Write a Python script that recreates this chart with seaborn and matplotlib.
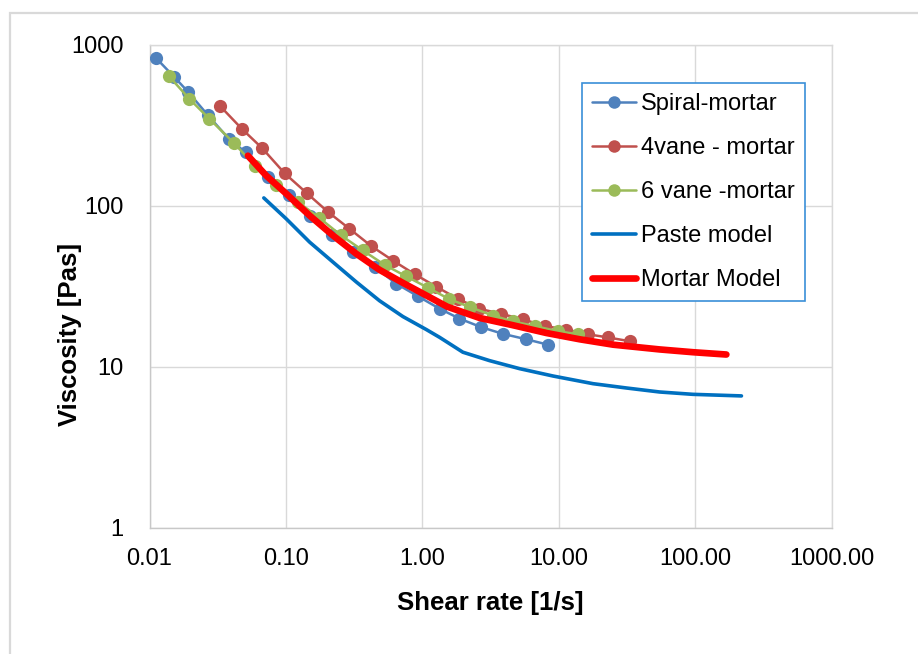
import numpy as np
import pandas as pd
import matplotlib
matplotlib.use('Agg')
import matplotlib.pyplot as plt
from matplotlib.patches import Rectangle
from matplotlib.ticker import FixedLocator, FixedFormatter, NullLocator
import seaborn as sns

# --- données ---
spiral_x = [0.0112, 0.0152, 0.0191, 0.0267, 0.0381, 0.0506, 0.0737, 0.106, 0.151, 0.216,
            0.309, 0.446, 0.644, 0.927, 1.34, 1.87, 2.70, 3.89, 5.78, 8.32]
spiral_y = [827, 631, 513, 367, 261, 215, 152, 116, 87, 65.4,
            51.6, 41.6, 32.8, 27.4, 22.9, 19.9, 17.6, 16.0, 14.8, 13.7]

vane4_x = [0.033, 0.0475, 0.067, 0.098, 0.142, 0.204, 0.292, 0.422, 0.608, 0.877,
           1.265, 1.82, 2.62, 3.78, 5.45, 7.87, 11.35, 16.3, 22.9, 33.0]
vane4_y = [416, 301, 228, 159, 120, 91.4, 72, 56.2, 45.7, 37.6,
           31.4, 26.4, 22.9, 21.3, 19.7, 17.9, 17.0, 15.9, 15.2, 14.4]

vane6_x = [0.0139, 0.0196, 0.0275, 0.0415, 0.0589, 0.0839, 0.122, 0.176, 0.254, 0.366,
           0.528, 0.762, 1.097, 1.56, 2.22, 3.29, 4.61, 6.65, 9.85, 13.8]
vane6_y = [639, 462, 347, 246, 178, 134, 106, 84, 65.4, 52.8,
           43, 36.4, 31.0, 26.4, 23.5, 20.8, 19.1, 17.9, 16.6, 15.9]

paste_x = [0.0688, 0.1005, 0.149, 0.221, 0.328, 0.485, 0.719, 1.07, 1.34, 1.98,
           3.11, 5.16, 9.06, 17.8, 31.3, 54.8, 96.2, 218]
paste_y = [112, 83, 59.5, 44.7, 33.6, 25.7, 20.5, 17.0, 15.2, 12.3,
           10.9, 9.72, 8.75, 7.84, 7.37, 6.96, 6.73, 6.58]

mortar_x = [0.0526, 0.0717, 0.1005, 0.149, 0.221, 0.328, 0.485, 0.719, 1.07, 1.52,
            2.62, 4.61, 8.09, 14.2, 25.0, 54.8, 96.2, 169]
mortar_y = [205, 154, 119, 87, 65.4, 50.3, 40.0, 33.2, 27.7, 23.6,
            20.1, 18.1, 16.2, 14.8, 13.7, 12.8, 12.3, 11.9]

x_ticks = [0.01, 0.1, 1, 10, 100, 1000]
x_tick_labels = ['0.01', '0.10', '1.00', '10.00', '100.00', '1000.00']
y_ticks = [1, 10, 100, 1000]
y_tick_labels = ['1', '10', '100', '1000']

sns.set_style('white')
plt.rcParams['font.family'] = ['Liberation Sans', 'DejaVu Sans']
plt.rcParams['text.color'] = 'black'
plt.rcParams['axes.labelcolor'] = 'black'

fig = plt.figure(figsize=(9.18, 6.54), dpi=100)
ax = fig.add_axes([0.1629, 0.1934, 0.7431, 0.7378])

# cadre extérieur du graphique (style Excel)
fig.patches.append(Rectangle((10 / 918, -0.05), 1.0, 1 - 13 / 654 + 0.05,
                             transform=fig.transFigure, fill=False,
                             edgecolor='#D9D9D9', linewidth=1.6, zorder=0))

series = [
    (spiral_x, spiral_y, 'Spiral-mortar', '#4F81BD', 1.8, 'o'),
    (vane4_x, vane4_y, '4vane - mortar', '#C0504D', 1.8, 'o'),
    (vane6_x, vane6_y, '6 vane -mortar', '#9BBB59', 1.8, 'o'),
    (paste_x, paste_y, 'Paste model', '#0070C0', 2.6, None),
    (mortar_x, mortar_y, 'Mortar Model', '#FF0000', 4.8, None),
]
for i, (xs, ys, lab, col, lw, mk) in enumerate(series):
    df = pd.DataFrame({'x': xs, 'y': ys})
    kw = dict(marker=mk, markersize=9.5, markeredgewidth=0) if mk else {}
    sns.lineplot(data=df, x='x', y='y', ax=ax, color=col, linewidth=lw,
                 label=lab, sort=False, estimator=None, zorder=3 + i, **kw)

ax.set_xscale('log')
ax.set_yscale('log')
ax.set_xlim(0.01, 1000)
ax.set_ylim(1, 1000)
ax.xaxis.set_major_locator(FixedLocator(x_ticks))
ax.xaxis.set_major_formatter(FixedFormatter(x_tick_labels))
ax.xaxis.set_minor_locator(NullLocator())
ax.yaxis.set_major_locator(FixedLocator(y_ticks))
ax.yaxis.set_major_formatter(FixedFormatter(y_tick_labels))
ax.yaxis.set_minor_locator(NullLocator())

ax.grid(True, which='major', color='#D9D9D9', linewidth=1.0)
ax.set_axisbelow(True)
for side in ['top', 'right']:
    ax.spines[side].set_color('#D9D9D9')
for side in ['left', 'bottom']:
    ax.spines[side].set_color('#C8C8C8')
for s in ax.spines.values():
    s.set_linewidth(1.0)

ax.tick_params(axis='x', length=0, pad=15, labelsize=17, colors='black')
ax.tick_params(axis='y', length=0, pad=18.5, labelsize=17, colors='black')

ax.set_xlabel('Shear rate [1/s]', fontsize=18.5, fontweight='bold')
ax.set_ylabel('Viscosity [Pas]', fontsize=18.5, fontweight='bold')
ax.xaxis.set_label_coords(0.5, -0.1316)
ax.yaxis.set_label_coords(-0.0994, 0.401)

leg = ax.legend(loc='upper left', bbox_to_anchor=(0.6335, 0.9206), borderaxespad=0,
                fontsize=17, handlelength=1.9, handletextpad=0.2, labelspacing=0.93,
                borderpad=0.42, fancybox=False, framealpha=1)
leg.get_frame().set_edgecolor('#3A8FD8')
leg.get_frame().set_linewidth(1.2)
for h in leg.legend_handles:
    if h.get_marker() not in (None, 'None', ''):
        h.set_markersize(9)

fig.savefig('out.png', dpi=100)
